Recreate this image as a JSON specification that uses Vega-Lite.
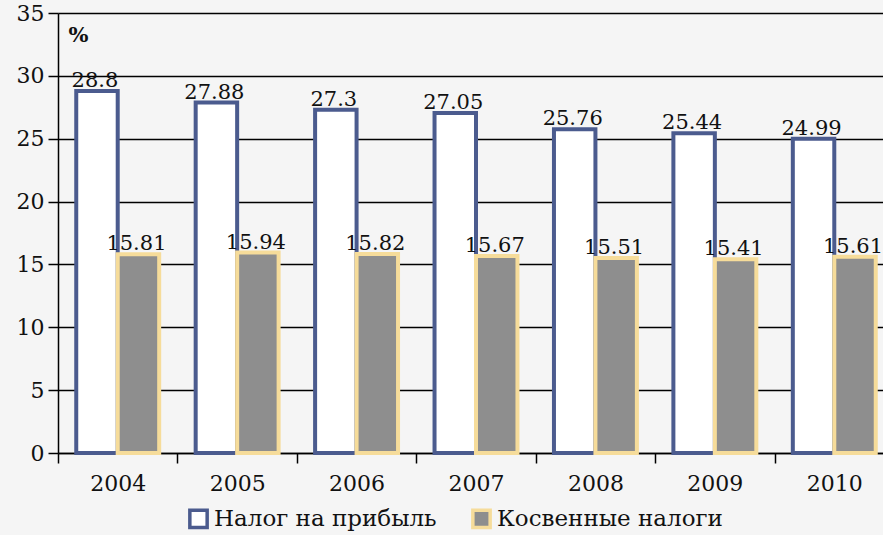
{
  "$schema": "https://vega.github.io/schema/vega-lite/v6.json",
  "width": 825,
  "height": 440,
  "autosize": "none",
  "padding": {"left": 58, "top": 13, "right": 0, "bottom": 82},
  "background": "#f5f5f5",
  "config": {
    "view": {"stroke": null},
    "font": "DejaVu Serif",
    "text": {"font": "DejaVu Serif"}
  },
  "data": {
    "values": [
      {"year": "2004", "series": "Налог на прибыль", "value": 28.8},
      {"year": "2005", "series": "Налог на прибыль", "value": 27.88},
      {"year": "2006", "series": "Налог на прибыль", "value": 27.3},
      {"year": "2007", "series": "Налог на прибыль", "value": 27.05},
      {"year": "2008", "series": "Налог на прибыль", "value": 25.76},
      {"year": "2009", "series": "Налог на прибыль", "value": 25.44},
      {"year": "2010", "series": "Налог на прибыль", "value": 24.99},
      {"year": "2004", "series": "Косвенные налоги", "value": 15.81},
      {"year": "2005", "series": "Косвенные налоги", "value": 15.94},
      {"year": "2006", "series": "Косвенные налоги", "value": 15.82},
      {"year": "2007", "series": "Косвенные налоги", "value": 15.67},
      {"year": "2008", "series": "Косвенные налоги", "value": 15.51},
      {"year": "2009", "series": "Косвенные налоги", "value": 15.41},
      {"year": "2010", "series": "Косвенные налоги", "value": 15.61}
    ]
  },
  "encoding": {
    "x": {
      "field": "year",
      "type": "ordinal",
      "scale": {"paddingInner": 0, "paddingOuter": 0, "range": [0, 836]},
      "axis": {
        "title": null,
        "labelAngle": 0,
        "labelFontSize": 22,
        "labelColor": "#111111",
        "labelPadding": 10,
        "tickBand": "extent",
        "tickSize": 10,
        "tickColor": "#000000",
        "tickWidth": 1.5,
        "domainColor": "#000000",
        "domainWidth": 1.5,
        "grid": false
      }
    },
    "xOffset": {
      "field": "series",
      "type": "nominal",
      "sort": ["Налог на прибыль", "Косвенные налоги"],
      "scale": {"paddingInner": 0, "paddingOuter": 0.44}
    },
    "y": {
      "field": "value",
      "type": "quantitative",
      "scale": {"domain": [0, 35], "nice": false},
      "axis": {
        "values": [0, 5, 10, 15, 20, 25, 30, 35],
        "grid": true,
        "gridColor": "#000000",
        "gridWidth": 1.5,
        "gridOpacity": 1,
        "domainColor": "#000000",
        "domainWidth": 1.5,
        "tickColor": "#000000",
        "tickWidth": 1.5,
        "tickSize": 10,
        "labelFontSize": 22,
        "labelColor": "#111111",
        "labelPadding": 4,
        "title": "%",
        "titleAngle": 0,
        "titleX": 10,
        "titleY": 28,
        "titleAlign": "left",
        "titleBaseline": "alphabetic",
        "titleFontSize": 21,
        "titleFontWeight": "bold",
        "titleColor": "#111111"
      }
    }
  },
  "layer": [
    {
      "mark": {"type": "bar", "strokeWidth": 4},
      "encoding": {
        "fill": {
          "field": "series",
          "type": "nominal",
          "scale": {
            "domain": ["Налог на прибыль", "Косвенные налоги"],
            "range": ["#ffffff", "#8e8e8e"]
          },
          "legend": {
            "title": null,
            "orient": "none",
            "direction": "horizontal",
            "legendX": 129,
            "legendY": 494,
            "symbolType": "square",
            "symbolSize": 300,
            "symbolStrokeWidth": 3.5,
            "labelFontSize": 23,
            "labelColor": "#111111",
            "labelOffset": 4,
            "columnPadding": 28,
            "labelLimit": 400
          }
        },
        "stroke": {
          "field": "series",
          "type": "nominal",
          "scale": {
            "domain": ["Налог на прибыль", "Косвенные налоги"],
            "range": ["#4b5b8e", "#f6dc9a"]
          },
          "legend": {
            "title": null,
            "orient": "none",
            "direction": "horizontal",
            "legendX": 129,
            "legendY": 494,
            "symbolType": "square",
            "symbolSize": 300,
            "symbolStrokeWidth": 3.5,
            "labelFontSize": 23,
            "labelColor": "#111111",
            "labelOffset": 4,
            "columnPadding": 28,
            "labelLimit": 400
          }
        }
      }
    },
    {
      "mark": {"type": "text", "baseline": "alphabetic", "dy": -4, "dx": -2, "fontSize": 21, "color": "#111111"},
      "encoding": {
        "text": {"field": "value", "type": "quantitative"}
      }
    }
  ]
}
